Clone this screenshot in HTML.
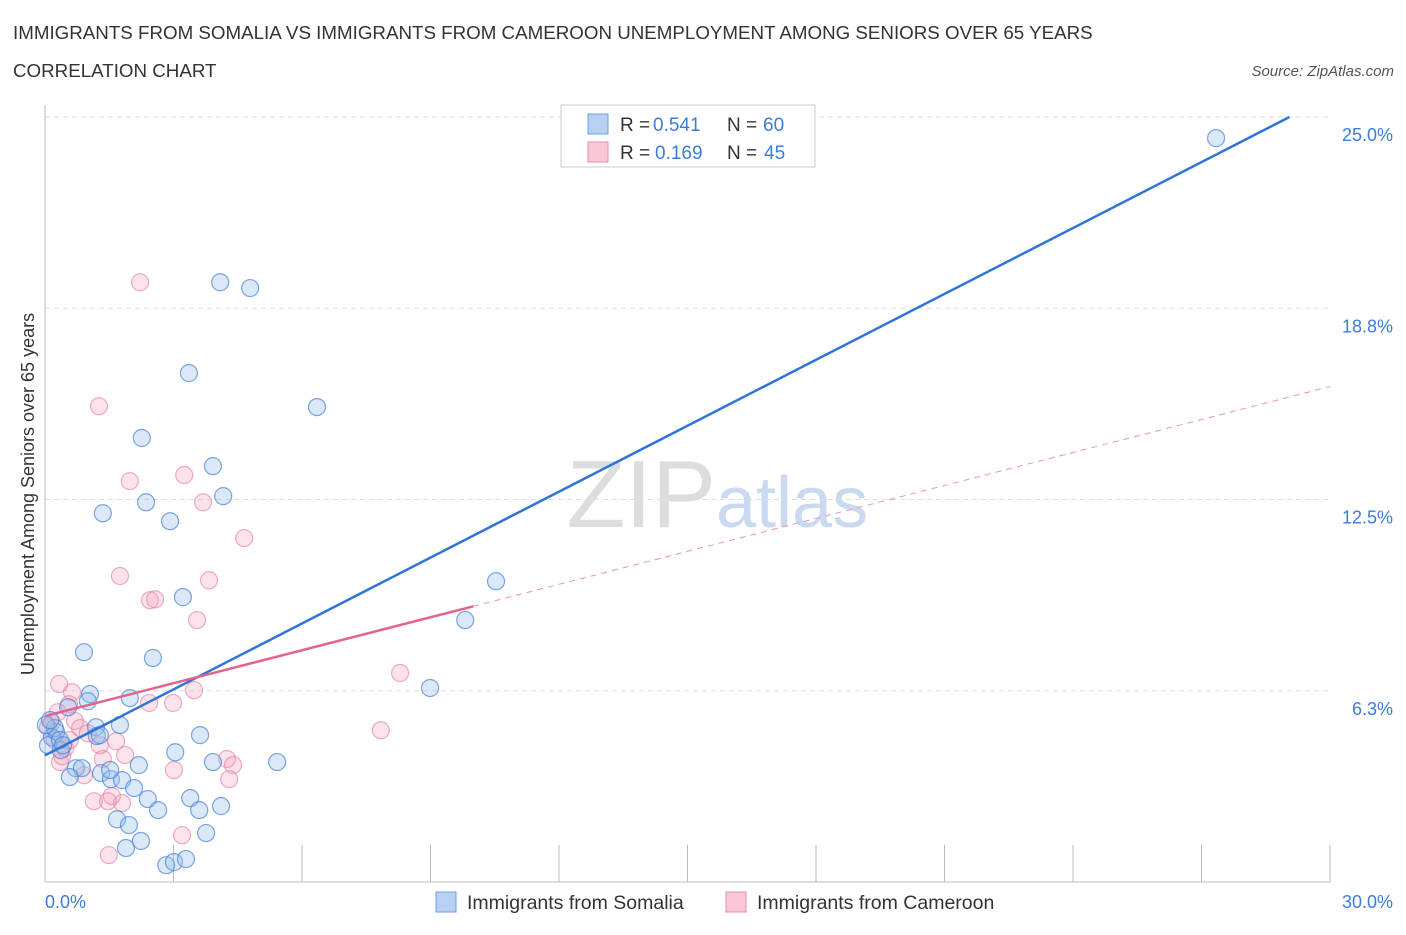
<!DOCTYPE html>
<html><head><meta charset="utf-8"><style>
body{margin:0;background:#fff;font-family:"Liberation Sans",sans-serif;}
svg text{font-family:"Liberation Sans",sans-serif;}
</style></head><body>
<svg id="chart" width="1406" height="930" xmlns="http://www.w3.org/2000/svg">
<text x="13" y="39" font-size="18.75" fill="#333">IMMIGRANTS FROM SOMALIA VS IMMIGRANTS FROM CAMEROON UNEMPLOYMENT AMONG SENIORS OVER 65 YEARS</text>
<text x="13" y="77" font-size="18.75" fill="#333">CORRELATION CHART</text>
<text x="1394" y="76" font-size="15" fill="#555" text-anchor="end" font-style="italic">Source: ZipAtlas.com</text>
<text x="716" y="527" font-size="96" text-anchor="end" fill="#ddd" font-family="Liberation Serif">ZIP</text>
<text x="716" y="527" font-size="72" fill="#c9d9f0">atlas</text>
<g id="grid"></g>
<g id="axes"></g>
<g id="points"></g>
<g id="lines"></g>
<text transform="translate(34,494) rotate(-90)" font-size="18" fill="#333" text-anchor="middle">Unemployment Among Seniors over 65 years</text>
<g>
<rect x="561" y="105" width="254" height="62" fill="#fff" stroke="#ccc"/>
<rect x="588" y="114" width="20" height="20" fill="#b8d1f3" stroke="#6a9fe0"/>
<rect x="588" y="142" width="20" height="20" fill="#f9c8d6" stroke="#e792ac"/>
<text x="620" y="131" font-size="19" fill="#333">R =</text><text x="653" y="131" font-size="19" fill="#3b7dd8">0.541</text>
<text x="727" y="131" font-size="19" fill="#333">N =</text><text x="763" y="131" font-size="19" fill="#3b7dd8">60</text>
<text x="620" y="159" font-size="19" fill="#333">R =</text><text x="655" y="159" font-size="19" fill="#3b7dd8">0.169</text>
<text x="727" y="159" font-size="19" fill="#333">N =</text><text x="764" y="159" font-size="19" fill="#3b7dd8">45</text>
</g>
<g><rect x="436" y="892" width="20" height="20" fill="#b8d1f3" stroke="#6a9fe0"/><text x="467" y="909" font-size="19.5" fill="#333">Immigrants from Somalia</text></g>
<g><rect x="726" y="892" width="20" height="20" fill="#f9c8d6" stroke="#e792ac"/><text x="757" y="909" font-size="19.5" fill="#333">Immigrants from Cameroon</text></g>
</svg>
<script>
const yTicks=[6.25,12.5,18.75,25];
const yTickLabels=["6.3%","12.5%","18.8%","25.0%"];
const xTickLabels=["0.0%","30.0%"];
const somaliaX=[27.34,4.09,4.79,3.36,6.35,2.26,3.92,4.16,2.36,1.35,2.92,10.53,3.22,9.81,0.91,2.52,8.99,1.05,1.00,1.98,0.54,1.19,1.75,1.21,0.26,0.16,0.07,3.62,0.37,3.04,3.92,5.42,2.19,0.72,0.86,0.58,1.31,1.54,1.80,2.08,2.40,3.39,4.11,2.64,3.60,1.68,1.96,3.76,2.24,1.89,2.83,3.01,3.29,0.23,0.35,0.02,0.42,1.52,1.28,0.12];
const somaliaY=[24.31,19.60,19.41,16.63,15.52,14.51,13.59,12.61,12.41,12.05,11.79,9.83,9.31,8.56,7.51,7.32,6.34,6.14,5.91,6.01,5.71,5.06,5.13,4.77,4.90,4.73,4.47,4.80,4.31,4.24,3.92,3.92,3.82,3.72,3.72,3.43,3.56,3.36,3.33,3.07,2.71,2.74,2.48,2.35,2.35,2.05,1.86,1.60,1.34,1.11,0.55,0.65,0.75,5.03,4.64,5.13,4.47,3.66,4.80,5.29];
const cameroonX=[2.22,1.26,1.98,3.25,3.69,4.65,1.75,3.83,2.45,2.57,3.55,8.29,0.33,0.63,3.48,2.99,2.43,0.56,0.70,0.82,7.84,1.66,4.25,4.39,1.35,3.01,1.87,4.30,0.91,0.35,1.14,1.47,1.80,1.56,3.20,1.49,0.23,0.47,0.07,0.16,1.00,0.40,1.28,0.58,0.30];
const cameroonY=[19.60,15.55,13.10,13.30,12.41,11.24,10.00,9.86,9.21,9.24,8.56,6.83,6.47,6.20,6.27,5.85,5.85,5.81,5.26,5.03,4.96,4.60,4.02,3.82,4.02,3.66,4.15,3.36,3.49,3.92,2.64,2.64,2.58,2.81,1.53,0.88,4.64,4.37,5.06,5.22,4.86,4.11,4.47,4.64,5.55];
const trendIntercept=[4.14,5.42];
const trendSlope=[0.718,0.359];
const NS="http://www.w3.org/2000/svg";
const X=v=>45+v/30*1285, Y=v=>882-v*30.6;
function mk(p,t,a){const e=document.createElementNS(NS,t);for(const k in a)e.setAttribute(k,a[k]);document.getElementById(p).appendChild(e);return e;}
mk('grid','line',{x1:45,x2:1330,y1:Y(25),y2:Y(25),stroke:'#ddd','stroke-dasharray':'5,4'});
yTicks.forEach((t,i)=>{
 const g=mk('grid','line',{x1:45,x2:1330,y1:Y(t),y2:Y(t),stroke:'#ddd','stroke-dasharray':'5,4'});
 
 
 const l=mk('axes','text',{x:1393,y:Y(t)+24,'font-size':18,fill:'#3b7dd8','text-anchor':'end'});
 l.textContent=yTickLabels[i];
 
 
});
mk('axes','line',{x1:45,x2:45,y1:105,y2:882,stroke:'#bbb'});
mk('axes','line',{x1:45,x2:1330,y1:882,y2:882,stroke:'#bbb'});
for(let i=1;i<=10;i++){const t=mk('axes','line',{x1:X(i*3),x2:X(i*3),y1:845,y2:882,stroke:'#bbb'});
 
 }
[[0,45,'start'],[1,1393,'end']].forEach(([i,x,a])=>{const l=mk('axes','text',{x:x,y:908,'font-size':18,fill:'#3b7dd8','text-anchor':a});l.textContent=xTickLabels[i];
 
 });
cameroonX.forEach((v,i)=>{const c=mk('points','circle',{cx:X(v),cy:Y(cameroonY[i]),r:8.5,fill:'rgba(244,160,185,0.3)',stroke:'rgba(230,130,160,0.65)','stroke-width':1.2});
 
 });
somaliaX.forEach((v,i)=>{const c=mk('points','circle',{cx:X(v),cy:Y(somaliaY[i]),r:8.5,fill:'rgba(150,190,235,0.35)',stroke:'rgba(70,130,215,0.7)','stroke-width':1.2});
 
 });
const bx2=(25-trendIntercept[0])/trendSlope[0];
const bl=mk('lines','line',{x1:X(0),y1:Y(trendIntercept[0]),x2:X(bx2),y2:Y(trendIntercept[0]+trendSlope[0]*bx2),stroke:'#2f74d6','stroke-width':2.5});


const pl=mk('lines','line',{x1:X(0),y1:Y(trendIntercept[1]),x2:X(10),y2:Y(trendIntercept[1]+trendSlope[1]*10),stroke:'#e0648c','stroke-width':2.5});


const pd=mk('lines','line',{x1:X(10),y1:Y(trendIntercept[1]+trendSlope[1]*10),x2:X(30),y2:Y(trendIntercept[1]+trendSlope[1]*30),stroke:'#e895b0','stroke-width':1,'stroke-dasharray':'6,5'});


</script>
</body></html>
